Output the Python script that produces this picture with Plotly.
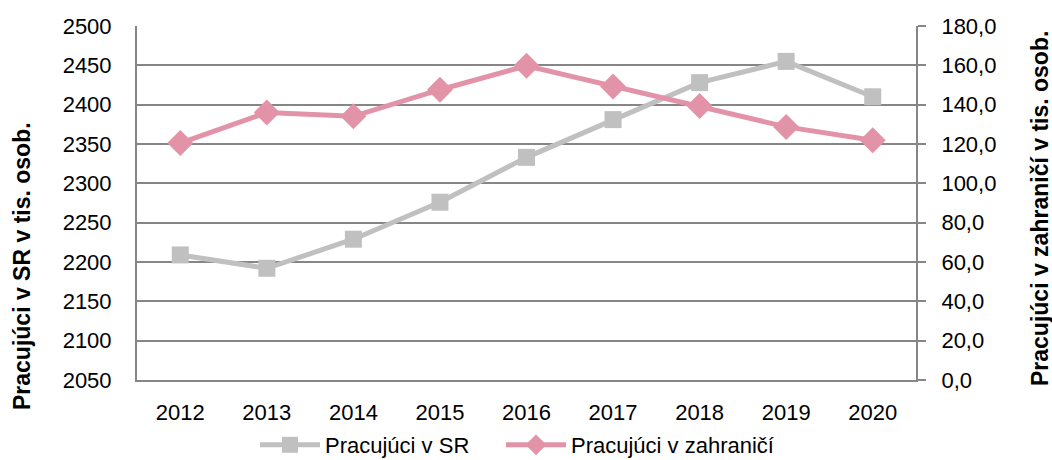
import plotly.graph_objects as go

years = ["2012", "2013", "2014", "2015", "2016", "2017", "2018", "2019", "2020"]
pracujuci_sr = [2209, 2192, 2229, 2276, 2333, 2381, 2428, 2455, 2410]
pracujuci_zahranici = [120.5, 136.0, 134.1, 147.6, 159.8, 149.3, 139.3, 128.7, 121.9]
left_ticks = [2050, 2100, 2150, 2200, 2250, 2300, 2350, 2400, 2450, 2500]
right_ticks = [0, 20, 40, 60, 80, 100, 120, 140, 160, 180]
right_tick_labels = ["0,0", "20,0", "40,0", "60,0", "80,0", "100,0", "120,0", "140,0", "160,0", "180,0"]
left_title = "Pracujúci v SR v tis. osob."
right_title = "Pracujúci v zahraničí v tis. osob."

FONT = "Liberation Sans, Arial, sans-serif"
GRID = "#868686"
W, H = 1052, 460
ML, MR, MT, MB = 137, 136, 26, 80
PH = H - MT - MB
PW = W - ML - MR
LEG_Y = -(445 - (H - MB)) / PH

fig = go.Figure()
fig.add_trace(go.Scatter(
    x=years, y=pracujuci_sr, name="Pracujúci v SR", mode="lines+markers",
    line=dict(color="#C0C0C0", width=5),
    marker=dict(symbol="square", size=17, color="#C0C0C0"),
    yaxis="y", legend="legend"))
fig.add_trace(go.Scatter(
    x=years, y=pracujuci_zahranici, name="Pracujúci v zahraničí", mode="lines+markers",
    line=dict(color="#E393A8", width=5),
    marker=dict(symbol="diamond", size=20, color="#E393A8"),
    yaxis="y2", legend="legend2"))

legend_common = dict(orientation="h", xanchor="left", y=LEG_Y, yanchor="middle",
                     font=dict(size=22), itemwidth=60, bgcolor="rgba(0,0,0,0)")

fig.update_layout(
    width=W, height=H,
    margin=dict(l=ML, r=MR, t=MT, b=MB, autoexpand=False),
    paper_bgcolor="white", plot_bgcolor="white",
    font=dict(family=FONT, size=22, color="black"),
    showlegend=True,
    legend=dict(x=(255 - ML) / PW, **legend_common),
    legend2=dict(x=(501 - ML) / PW, **legend_common),
    xaxis=dict(type="category", range=[-0.5, len(years) - 0.5], showgrid=False, showline=True,
               linecolor=GRID, linewidth=2,
               ticks="", ticklabelstandoff=12, tickfont=dict(size=22), automargin=False),
    yaxis=dict(range=[2050, 2500], tickvals=left_ticks, showgrid=True, gridcolor=GRID,
               gridwidth=2, showline=True, linecolor=GRID, linewidth=2, ticks="",
               ticklabelstandoff=19, zeroline=False, tickfont=dict(size=22), automargin=False),
    yaxis2=dict(range=[0, 180], tickvals=right_ticks, ticktext=right_tick_labels,
                overlaying="y", side="right", showgrid=False, showline=True, linecolor=GRID,
                linewidth=2, ticks="outside", ticklen=8, tickcolor=GRID, tickwidth=2,
                ticklabelstandoff=11, zeroline=False, tickfont=dict(size=22), automargin=False),
    annotations=[
        dict(text="<b>" + left_title + "</b>", xref="paper", yref="paper",
             x=-(ML - 22) / PW, y=1 - (266 - MT) / PH, xanchor="center", yanchor="middle",
             textangle=-90, showarrow=False, font=dict(size=23)),
        dict(text="<b>" + right_title + "</b>", xref="paper", yref="paper",
             x=1 + (1040 - (W - MR)) / PW, y=1 - (209 - MT) / PH, xanchor="center", yanchor="middle",
             textangle=-90, showarrow=False, font=dict(size=23)),
    ],
)

fig.write_html("out.html", config={"displayModeBar": False},
               post_script="document.body.style.margin='0';document.body.style.overflow='hidden';")
